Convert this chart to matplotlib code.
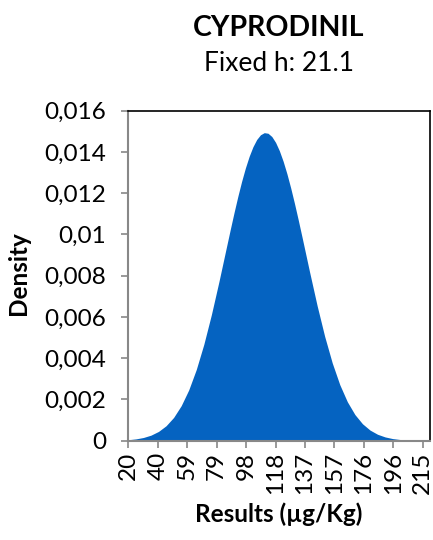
import matplotlib
matplotlib.use("Agg")
import matplotlib.pyplot as plt

plt.rcParams["font.family"] = ["Lato", "DejaVu Sans"]

# Density curve (x in ug/Kg)
results = [20, 25, 30, 35, 40, 45, 50, 55, 60, 65, 70, 75, 80, 85, 87.5, 90,
           92.5, 95, 97.5, 100, 102.5, 105, 107.5, 110, 112.5, 115, 117.5, 120,
           122.5, 125, 127.5, 130, 132.5, 135, 140, 145, 150, 155, 160, 165,
           170, 175, 180, 185, 190, 195, 200, 205, 210, 215]
density = [0.000047, 0.000087, 0.000155, 0.000268, 0.000449, 0.000724, 0.001127,
           0.001696, 0.002462, 0.003453, 0.004675, 0.006112, 0.007714, 0.009401,
           0.010242, 0.011062, 0.011843, 0.012568, 0.013221, 0.013787, 0.014252,
           0.014604, 0.014833, 0.014935, 0.014906, 0.014748, 0.014463, 0.014060,
           0.013550, 0.012944, 0.012257, 0.011505, 0.010705, 0.009874, 0.008183,
           0.006547, 0.005057, 0.003772, 0.002716, 0.001888, 0.001268, 0.000822,
           0.000515, 0.000311, 0.000182, 0.000102, 0.000056, 0.000029, 0.000015,
           0.000007]

x_ticks = [20, 39.5, 59, 78.5, 98, 117.5, 137, 156.5, 176, 195.5, 215]
x_tick_labels = ["20", "40", "59", "79", "98", "118", "137", "157", "176", "196", "215"]
y_ticks = [0, 0.002, 0.004, 0.006, 0.008, 0.01, 0.012, 0.014, 0.016]
y_tick_labels = ["0", "0,002", "0,004", "0,006", "0,008", "0,01", "0,012", "0,014", "0,016"]

fig = plt.figure(figsize=(4.33, 5.4), dpi=100)
ax = fig.add_axes([0.2963, 0.1839, 0.6967, 0.6111])

ax.fill_between(results, density, 0, color="#0563C1", linewidth=0)

ax.set_xlim(20, 219.7)
ax.set_ylim(0, 0.016)
ax.set_xticks(x_ticks)
ax.set_xticklabels(x_tick_labels, rotation=90, fontsize=17.5)
ax.set_yticks(y_ticks)
ax.set_yticklabels(y_tick_labels, fontsize=17.5)
ax.tick_params(axis="both", color="#888888", length=5, width=1.2)
ax.tick_params(axis="y", pad=11)
ax.tick_params(axis="x", pad=3)

for side in ["left", "bottom"]:
    ax.spines[side].set_color("#888888")
    ax.spines[side].set_linewidth(1.5)
for side in ["top", "right"]:
    ax.spines[side].set_color("black")
    ax.spines[side].set_linewidth(1.2)

fig.text(0.644, 0.0339, "Results (µg/Kg)", ha="center", va="baseline",
         fontsize=17.5, fontweight="bold")
fig.text(0.0416, 0.4944, "Density", ha="center", va="center", rotation=90,
         fontsize=17.5, fontweight="bold")

fig.text(0.644, 0.9333, "CYPRODINIL", ha="center", va="baseline",
         fontsize=20.5, fontweight="bold")
fig.text(0.644, 0.869, "Fixed h: 21.1", ha="center", va="baseline", fontsize=19)

fig.savefig("out.png", dpi=100)
